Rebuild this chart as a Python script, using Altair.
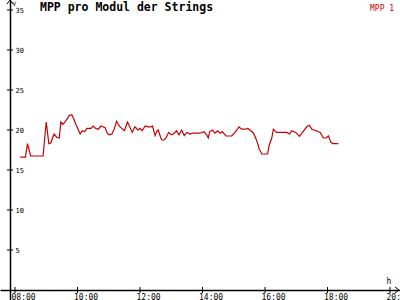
import altair as alt
import pandas as pd

DAY = "2024-06-01"

times = ["08:10", "08:20", "08:24", "08:30", "08:54", "08:57", "09:00", "09:05", "09:09", "09:12",
         "09:15", "09:20", "09:25", "09:28", "09:32", "09:36", "09:40", "09:44", "09:49", "09:52",
         "09:57", "10:03", "10:05", "10:09", "10:14", "10:18", "10:26", "10:30", "10:35", "10:40",
         "10:45", "10:53", "10:57", "11:01", "11:06", "11:11", "11:15", "11:20", "11:25", "11:30",
         "11:36", "11:39", "11:45", "11:50", "11:56", "12:00", "12:04", "12:10", "12:16", "12:22",
         "12:24", "12:29", "12:32", "12:35", "12:40", "12:42", "12:46", "12:50", "12:55", "13:00",
         "13:04", "13:10", "13:15", "13:20", "13:25", "13:30", "13:36", "13:41", "13:55", "14:03",
         "14:08", "14:11", "14:14", "14:19", "14:24", "14:29", "14:34", "14:38", "14:45", "14:56",
         "15:01", "15:06", "15:10", "15:15", "15:22", "15:27", "15:31", "15:38", "15:42", "15:46",
         "15:49", "15:54", "16:05", "16:08", "16:13", "16:16", "16:22", "16:42", "16:47", "16:51",
         "16:59", "17:06", "17:12", "17:20", "17:25", "17:30", "17:38", "17:46", "17:52", "17:57",
         "18:02", "18:06", "18:10", "18:21"]
mpp1 = [16.6, 16.6, 18.3, 16.75, 16.75, 19.0, 21.0, 18.3, 18.4, 19.0,
        19.5, 19.1, 19.0, 21.0, 20.7, 21.0, 21.4, 21.8, 21.9, 21.5,
        20.7, 19.8, 19.5, 19.9, 19.8, 20.2, 20.2, 20.5, 20.2, 20.1,
        20.5, 20.3, 19.6, 19.4, 19.5, 20.2, 21.1, 20.5, 20.2, 19.9,
        21.0, 20.6, 19.7, 20.4, 20.0, 20.2, 19.9, 20.5, 20.4, 20.4,
        20.5, 19.3, 19.8, 20.0, 19.0, 18.75, 18.75, 19.0, 19.7, 19.4,
        19.5, 19.9, 19.4, 20.0, 19.3, 19.7, 19.5, 19.6, 19.6, 19.8,
        19.4, 19.0, 19.8, 20.0, 19.6, 19.9, 19.6, 19.8, 19.25, 19.25,
        19.6, 20.0, 20.4, 20.1, 20.1, 20.2, 20.0, 19.6, 19.0, 18.3,
        17.6, 17.0, 17.0, 18.1, 19.0, 20.1, 19.7, 19.7, 19.5, 19.9,
        19.7, 19.2, 19.7, 20.4, 20.6, 20.1, 19.9, 19.7, 19.0, 19.0,
        19.25, 18.5, 18.3, 18.3]
series_name = "MPP 1"
chart_title = "MPP pro Modul der Strings"

x_tick_labels = ["08:00", "10:00", "12:00", "14:00", "16:00", "18:00", "20:00"]
y_tick_values = [5, 10, 15, 20, 25, 30, 35]

RED = "#c80000"
FONT = "DejaVu Sans Mono"

Y_AXIS_TIME = f"{DAY}T07:50:24"   # where the vertical axis crosses
Y_TICK_FROM = f"{DAY}T07:44:38"   # cross-tick extent around the vertical axis
Y_TICK_TO = f"{DAY}T07:56:10"
X_TICK_FROM, X_TICK_TO = -0.375, 0.375  # cross-tick extent around the time axis
X_ARROW_TIME = f"{DAY}T20:13:26"  # arrow head at the end of the time axis
Y_ARROW_VALUE = 36.0


def dt(hm, s=0):
    h, m = hm.split(":")
    return alt.DateTime(year=2024, month=6, date=1, hours=int(h), minutes=int(m), seconds=s)


df = pd.DataFrame({
    "time": [f"{DAY}T{t}:00" for t in times],
    "value": mpp1,
    "series": series_name,
})
xticks_df = pd.DataFrame({"time": [f"{DAY}T{t}:00" for t in x_tick_labels],
                          "v1": X_TICK_FROM, "v2": X_TICK_TO})
yticks_df = pd.DataFrame({"value": y_tick_values, "t1": Y_TICK_FROM, "t2": Y_TICK_TO})
up_df = pd.DataFrame({"time": [Y_AXIS_TIME], "value": [Y_ARROW_VALUE]})
right_df = pd.DataFrame({"time": [X_ARROW_TIME], "value": [0]})
title_df = pd.DataFrame({"label": [chart_title]})

x_scale = alt.Scale(domain=[dt("07:31", 12), dt("20:19", 12)], nice=False)
y_scale = alt.Scale(domain=[-1.25, 36.25], nice=False, zero=False)

x_axis = alt.Axis(
    orient="bottom", offset=-10, values=[dt(t) for t in x_tick_labels], format="%H:%M",
    grid=False, ticks=False, tickSize=0, domain=True, domainColor="black", domainWidth=1.5,
    labelAlign="left", labelOffset=-4, labelPadding=3, labelBaseline="top",
    labelFont=FONT, labelFontSize=8, labelColor="black", labelFlush=False, labelOverlap=False,
    title="h", titleX=386, titleY=-7, titleAlign="left", titleBaseline="alphabetic",
    titleFont=FONT, titleFontSize=8, titleFontWeight="normal", titleColor="black",
)
y_axis = alt.Axis(
    orient="left", offset=-10, values=y_tick_values,
    grid=False, ticks=False, tickSize=0, domain=True, domainColor="black", domainWidth=1.5,
    labelAlign="left", labelPadding=-5, labelBaseline="middle",
    labelFont=FONT, labelFontSize=7, labelColor="black", labelFlush=False, labelOverlap=False,
    title="V", titleAngle=0, titleX=2, titleY=5, titleAlign="left", titleBaseline="alphabetic",
    titleFont=FONT, titleFontSize=6, titleFontWeight="normal", titleColor="black",
)

X = alt.X("time:T", scale=x_scale)
Y = alt.Y("value:Q", scale=y_scale)

line = alt.Chart(df).mark_line(strokeWidth=1.2, interpolate="linear").encode(
    x=alt.X("time:T", scale=x_scale, axis=x_axis),
    y=alt.Y("value:Q", scale=y_scale, axis=y_axis),
    color=alt.Color("series:N", scale=alt.Scale(range=[RED]), legend=alt.Legend(
        orient="none", legendX=362, legendY=5, title=None, symbolSize=0, symbolStrokeWidth=0,
        symbolOpacity=0, labelOffset=0, labelFont=FONT, labelFontSize=8, labelColor=RED,
        padding=0, rowPadding=0)),
)

xticks = alt.Chart(xticks_df).mark_rule(strokeWidth=1, color="black").encode(
    x=alt.X("time:T", scale=x_scale),
    y=alt.Y("v1:Q", scale=y_scale), y2="v2:Q",
)
yticks = alt.Chart(yticks_df).mark_rule(strokeWidth=1, color="black").encode(
    y=alt.Y("value:Q", scale=y_scale),
    x=alt.X("t1:T", scale=x_scale), x2="t2:T",
)

up_arrow = alt.Chart(up_df).mark_point(
    shape="M-1,0.67L0,-0.67L1,0.67", size=36, filled=False, stroke="black", strokeWidth=1, opacity=1
).encode(x=X, y=Y)
right_arrow = alt.Chart(right_df).mark_point(
    shape="M-0.67,-1L0.67,0L-0.67,1", size=36, filled=False, stroke="black", strokeWidth=1, opacity=1
).encode(x=X, y=Y)

title = alt.Chart(title_df).mark_text(
    align="left", baseline="alphabetic", font=FONT, fontSize=11.5, fontWeight="bold", color="black"
).encode(text="label:N", x=alt.value(40), y=alt.value(11))

chart = alt.layer(line, xticks, yticks, up_arrow, right_arrow, title).properties(
    width=400, height=300,
    padding=0, autosize=alt.AutoSizeParams(type="none"), background="white",
).configure_view(stroke=None)

chart.save("out.html", embed_options={"renderer": "svg", "actions": False})
